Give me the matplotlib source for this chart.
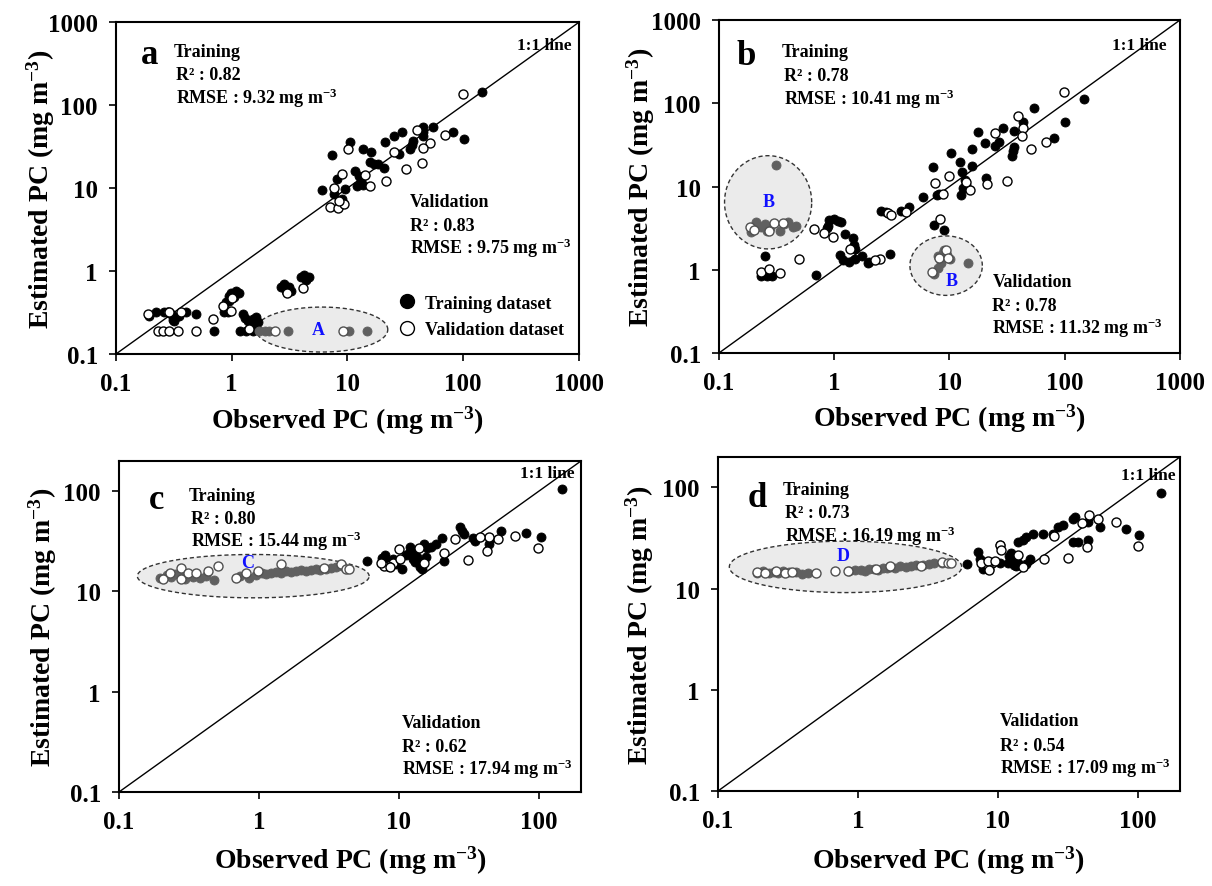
import numpy as np
import matplotlib
matplotlib.use("Agg")
import matplotlib.pyplot as plt
from matplotlib.lines import Line2D

plt.rcParams['font.family'] = ['Liberation Serif', 'DejaVu Serif']
plt.rcParams['font.weight'] = 'bold'
plt.rcParams['axes.labelweight'] = 'bold'
plt.rcParams['mathtext.fontset'] = 'custom'
plt.rcParams['mathtext.rm'] = 'Liberation Serif:bold'
plt.rcParams['mathtext.bf'] = 'Liberation Serif:bold'
plt.rcParams['mathtext.it'] = 'Liberation Serif:bold:italic'
plt.rcParams['mathtext.default'] = 'rm'

# ---------------- data (observed, estimated) ----------------
# panel a
a_train = [(146, 146), (102, 39), (82, 48), (55, 55), (45, 54), (45, 48), (45, 42),
           (37, 37), (36, 33), (35, 29.5), (29.5, 48), (25, 42), (21, 36), (28, 26),
           (20.6, 17.7), (15.8, 20.4), (17, 19.8), (18.2, 19.5), (13.5, 29.5),
           (15.9, 27.6), (10.5, 36), (7.3, 25), (11.7, 16), (12.5, 14), (13, 12.5),
           (13.5, 11), (12, 10.5), (9.5, 9.8), (8.1, 13), (6.0, 9.6), (7.6, 8.5), (9.0, 7.4),
           (3.97, 0.84), (4.25, 0.895), (4.62, 0.84), (4.39, 0.79),
           (2.67, 0.635), (2.85, 0.70), (3.1, 0.65), (2.94, 0.58), (3.26, 0.58),
           (0.99, 0.55), (1.09, 0.58), (1.16, 0.55), (0.955, 0.505), (1.05, 0.48),
           (0.89, 0.42), (0.955, 0.44), (0.86, 0.318), (0.92, 0.32),
           (1.24, 0.303), (1.29, 0.269), (1.37, 0.252), (1.52, 0.264), (1.62, 0.277),
           (1.47, 0.23), (1.67, 0.241), (1.18, 0.191), (1.33, 0.191), (1.52, 0.191),
           (1.67, 0.195), (0.708, 0.191),
           (0.194, 0.29), (0.222, 0.318), (0.319, 0.252), (0.33, 0.277), (0.353, 0.29),
           (0.403, 0.318), (0.491, 0.303), (0.262, 0.318), (0.299, 0.303), (0.31, 0.26)]
a_valid = [(99, 135), (70, 44), (52, 35), (45, 30.5), (44, 20), (40, 49.6), (32, 17.2),
           (25, 27.6), (21.5, 12.2), (15.6, 10.6), (14.2, 14.2), (10.2, 29.5), (9.0, 14.8),
           (7.6, 9.9), (7.0, 6.0), (8.2, 5.8), (9.3, 6.4), (8.4, 6.9),
           (4.1, 0.62), (2.98, 0.543), (1.0, 0.477), (0.99, 0.333), (0.836, 0.382),
           (0.684, 0.264), (1.42, 0.2), (0.49, 0.191), (0.229, 0.191), (0.253, 0.191),
           (0.289, 0.191), (0.341, 0.191), (0.188, 0.303), (0.28, 0.318), (0.365, 0.318),
           (0.289, 0.32)]
a_grey = [(1.73, 0.191), (1.92, 0.191), (2.1, 0.191), (3.05, 0.191), (10.4, 0.191), (14.7, 0.191)]
a_grey_valid = [(2.38, 0.191), (9.1, 0.191)]

# panel b
b_train = [(146, 112), (101, 59), (54, 88), (81, 38), (43.6, 59), (36.5, 46), (36, 30),
           (35, 23.5), (35.5, 27), (29.3, 51), (27, 34), (25, 31), (20.4, 33), (20.8, 12.6),
           (17.6, 44.7), (15.7, 28), (15.7, 17.8), (12.3, 19.5), (12.8, 15), (13.5, 12),
           (13.0, 9.5), (12.5, 8), (13.8, 10.5), (10.3, 25), (7.2, 17), (8.1, 8.1), (7.8, 7.8),
           (5.9, 7.4), (4.45, 5.7), (3.82, 5.1), (2.56, 5.1), (2.83, 4.9), (3.07, 1.55),
           (7.3, 3.45), (8.9, 3.0), (0.70, 0.86), (0.25, 1.45), (0.23, 0.83), (0.26, 0.83),
           (0.29, 0.84), (0.91, 4.0), (1.0, 4.1), (1.08, 3.8), (1.15, 3.7), (0.86, 3.2),
           (0.89, 3.4), (1.23, 2.7), (1.48, 2.0), (1.45, 2.4), (1.52, 1.8), (1.12, 1.5),
           (1.2, 1.3), (1.35, 1.25), (1.5, 1.35), (1.73, 1.45), (1.95, 1.2), (2.0, 1.25)]
b_valid = [(99, 135), (39, 71), (43.6, 51), (43, 41), (25, 43.5), (69, 34), (51, 28),
           (31.6, 11.7), (21, 10.7), (15.1, 9.1), (13.9, 11.2), (10, 13.5), (7.5, 11),
           (8.75, 8.1), (8.35, 4.1), (4.2, 4.9), (2.9, 4.8), (3.1, 4.6), (2.48, 1.35),
           (2.27, 1.3), (1.38, 1.78), (0.98, 2.5), (0.81, 2.8), (0.67, 3.1), (0.49, 1.35),
           (0.23, 0.93), (0.27, 1.02), (0.34, 0.91)]
b_grey = [(0.31, 18.1), (0.19, 2.82), (0.21, 3.78), (0.23, 3.3), (0.25, 3.5), (0.28, 3.2),
          (0.34, 2.9), (0.40, 3.78), (0.47, 3.4), (0.26, 2.9), (0.37, 3.5), (0.44, 3.3),
          (8.0, 1.45), (8.7, 1.6), (9.6, 1.5), (10.2, 1.35), (8.4, 1.2), (7.9, 1.05),
          (7.3, 0.9), (14.4, 1.2), (9.0, 1.75)]
b_grey_valid = [(0.185, 3.3), (0.27, 2.9), (0.30, 3.6), (0.36, 3.6), (0.2, 3.0),
                (9.35, 1.75), (8.1, 1.39), (7.1, 0.93), (9.8, 1.4)]

# panel c
c_train = [(146, 106), (103, 35), (81, 38.4), (53.5, 39.8), (44, 29.4), (45, 33), (34, 34),
           (35, 32), (27.5, 44), (29, 37), (28, 40), (20.3, 34), (18.3, 30), (17, 28),
           (15.9, 27), (15, 30), (21, 20), (14.7, 16.6), (14.2, 17.5), (12, 27.5), (13, 25),
           (11.8, 24), (13.5, 22), (12.5, 21), (14, 20), (13, 19.5), (15.5, 22), (11.2, 23),
           (10.5, 16.6), (9.6, 18.6), (9.0, 21), (9.2, 19.5), (7.6, 21.5), (8.4, 20),
           (5.96, 20.3), (8.0, 23)]
c_valid = [(98, 27), (68, 35.5), (51, 33.4), (44, 35), (42.5, 25.3), (38, 35), (31, 20.8),
           (25, 33.4), (21, 24.3), (15, 19.3), (13.9, 27.2), (10, 26.2), (9.1, 19),
           (8.4, 18), (7.8, 18), (7.4, 19), (8.6, 17.4), (10.2, 21)]
c_grey = [(0.196, 13.5), (0.219, 14.5), (0.237, 13.8), (0.25, 14.8), (0.28, 14.2),
          (0.295, 13.4), (0.32, 14.5), (0.338, 14.0), (0.377, 13.7), (0.416, 14.3),
          (0.48, 13.0), (0.726, 14.2), (0.855, 13.5), (0.955, 14.6), (1.05, 15.2),
          (1.12, 15.0), (1.22, 15.3), (1.32, 15.6), (1.44, 15.4), (1.56, 15.8), (1.7, 15.6),
          (1.84, 16.0), (2.0, 16.2), (2.17, 15.9), (2.35, 16.3), (2.55, 16.6), (2.75, 16.3),
          (3.0, 16.9), (3.25, 17.0), (3.55, 17.6), (3.95, 17.9)]
c_grey_valid = [(0.206, 13.4), (0.231, 15.3), (0.279, 17.2), (0.279, 13.2), (0.311, 15.3),
                (0.357, 15.1), (0.432, 15.9), (0.509, 17.9), (0.689, 13.7), (0.81, 15.3),
                (0.98, 15.9), (1.44, 18.6), (2.92, 17.2), (3.85, 18.6), (4.18, 16.6),
                (4.4, 16.6)]

# panel d
d_train = [(146, 88.5), (102, 33.7), (82, 38.7), (54, 41), (44, 30), (44, 45.7),
           (35.5, 51.3), (34.2, 48.5), (37.5, 29), (29, 43), (27, 41), (24.8, 35),
           (34.5, 29), (21, 35), (17.9, 34.3), (16, 32.5), (15.2, 30), (14, 29),
           (12, 21), (12.5, 19), (13, 17), (14, 18), (13.5, 16.6), (15.8, 17.5), (17, 19.5),
           (11.8, 18), (12.5, 22.5), (10.3, 17.8), (10.3, 27), (7.8, 15.8), (8.3, 16.6),
           (8.7, 15.5), (7.24, 23), (7.4, 19.8), (5.97, 17.7)]
d_valid = [(100, 26.5), (70, 45.7), (51.5, 49.3), (45, 54), (39.6, 45), (43, 25.5),
           (31.5, 20.1), (25.2, 33.3), (21.4, 19.5), (15.1, 16.4), (14, 21.4), (10.3, 26.9),
           (9.1, 17.8), (8.5, 16.6), (7.6, 17.8), (8.5, 18.6), (9.5, 18.6), (8.7, 15.2),
           (10.5, 24)]
d_grey = [(0.19, 14.3), (0.21, 14.8), (0.23, 14.2), (0.25, 14.7), (0.27, 14.4),
          (0.29, 14.8), (0.32, 14.5), (0.36, 14.6), (0.40, 14.1), (0.44, 14.4),
          (0.86, 14.8), (0.95, 15.2), (1.05, 15.4), (1.12, 15.0), (1.2, 15.6), (1.3, 15.8),
          (1.4, 15.4), (1.5, 16.0), (1.6, 15.9), (1.7, 16.3), (1.85, 16.1), (2.0, 16.6),
          (2.2, 16.3), (2.4, 16.8), (2.6, 17.0), (2.9, 17.3), (3.2, 17.6), (3.5, 17.8),
          (4.0, 18.0)]
d_grey_valid = [(0.19, 14.6), (0.215, 14.2), (0.26, 14.9), (0.30, 14.2), (0.34, 14.7),
                (0.50, 14.3), (0.68, 14.9), (0.85, 15.0), (1.35, 15.6), (1.7, 16.8),
                (2.8, 16.8), (4.0, 18.2), (4.4, 17.9), (4.6, 18.0)]

# statistics text
train_r2 = ['0.82', '0.78', '0.80', '0.73']
train_rmse = ['9.32', '10.41', '15.44', '16.19']
valid_r2 = ['0.83', '0.78', '0.62', '0.54']
valid_rmse = ['9.75', '11.32', '17.94', '17.09']
letters = ['a', 'b', 'c', 'd']

ticks_big = [0.1, 1, 10, 100, 1000]
ticks_small = [0.1, 1, 10, 100]
tick_names_big = ['0.1', '1', '10', '100', '1000']
tick_names_small = ['0.1', '1', '10', '100']

# ellipses: centre x, centre y, half-width (decades), half-height (decades), label, label x, label y
blobs = {
    'a': [(6.0, 0.197, 0.57, 0.271, 'A', 5.6, 0.195)],
    'b': [(0.267, 6.46, 0.378, 0.56, 'B', 0.272, 6.6),
          (9.35, 1.12, 0.314, 0.357, 'B', 10.4, 0.74)],
    'c': [(0.91, 14.2, 0.828, 0.216, 'C', 0.83, 19.3)],
    'd': [(0.815, 16.4, 0.83, 0.254, 'D', 0.78, 21.1)],
}

# ---------------- figure ----------------
fig = plt.figure(figsize=(12.12, 8.87), dpi=100)
rects = [[0.0957, 0.5998, 0.382, 0.374],
         [0.5932, 0.6009, 0.3804, 0.3754],
         [0.0982, 0.1060, 0.3812, 0.3732],
         [0.5924, 0.1071, 0.3812, 0.3766]]
panels = [(a_train, a_valid, a_grey, a_grey_valid),
          (b_train, b_valid, b_grey, b_grey_valid),
          (c_train, c_valid, c_grey, c_grey_valid),
          (d_train, d_valid, d_grey, d_grey_valid)]

# text positions in axes fraction: letter, training block, 1:1, validation block, label coords
txt_pos = [
    dict(let=(0.073, 0.904), tr=(0.125, 0.913), one=(0.985, 0.931), va=(0.635, 0.461),
         ylab=-0.128, xlab=-0.148),
    dict(let=(0.060, 0.892), tr=(0.136, 0.904), one=(0.971, 0.925), va=(0.593, 0.216),
         ylab=-0.135, xlab=-0.145),
    dict(let=(0.082, 0.885), tr=(0.150, 0.897), one=(0.987, 0.964), va=(0.612, 0.211),
         ylab=-0.130, xlab=-0.155),
    dict(let=(0.084, 0.880), tr=(0.140, 0.904), one=(0.991, 0.946), va=(0.610, 0.210),
         ylab=-0.134, xlab=-0.157),
]

unit = r' mg m$^{-3}$'
for i, (rect, data) in enumerate(zip(rects, panels)):
    ax = fig.add_axes(rect)
    tr, va, gr, grv = data
    big = i < 2
    hi = 1000 if big else 200

    ax.set_xscale('log')
    ax.set_yscale('log')
    ax.set_xlim(0.1, hi)
    ax.set_ylim(0.1, hi)

    for cx, cy, rx, ry, lab, lx, ly in blobs[letters[i]]:
        t = np.linspace(0, 2 * np.pi, 300)
        ex = 10 ** (np.log10(cx) + rx * np.cos(t))
        ey = 10 ** (np.log10(cy) + ry * np.sin(t))
        ax.fill(ex, ey, facecolor='#ebebeb', edgecolor='#333333', linewidth=1.0,
                linestyle=(0, (3, 2)), zorder=1)
        ax.text(lx, ly, lab, color='#1010ff', fontsize=13, ha='center', va='center',
                zorder=5)

    ax.plot([0.1, hi], [0.1, hi], color='black', linewidth=1.0, zorder=2)

    x, y = zip(*tr)
    ax.plot(x, y, 'o', color='black', markersize=6.5, markeredgewidth=0.6, zorder=3)
    x, y = zip(*va)
    ax.plot(x, y, 'o', markerfacecolor='white', markeredgecolor='black',
            markersize=6.5, markeredgewidth=1.0, zorder=3)
    x, y = zip(*gr)
    ax.plot(x, y, 'o', color='#606060', markersize=6.5, markeredgewidth=0.6, zorder=4)
    x, y = zip(*grv)
    ax.plot(x, y, 'o', markerfacecolor='white', markeredgecolor='#505050',
            markersize=6.5, markeredgewidth=1.0, zorder=4)

    tk = ticks_big if big else ticks_small
    tn = tick_names_big if big else tick_names_small
    ax.set_xticks(tk)
    ax.set_xticklabels(tn)
    ax.set_yticks(tk)
    ax.set_yticklabels(tn)
    ax.minorticks_off()
    ax.tick_params(axis='both', which='major', labelsize=18, direction='out',
                   length=5, width=1.2, pad=8)
    for s in ax.spines.values():
        s.set_linewidth(1.5)

    p = txt_pos[i]
    ax.set_xlabel('Observed PC (mg m$^{-3}$)', fontsize=20, fontweight='bold')
    ax.set_ylabel('Estimated PC (mg m$^{-3}$)', fontsize=20, fontweight='bold')
    ax.xaxis.set_label_coords(0.5, p['xlab'])
    ax.yaxis.set_label_coords(p['ylab'], 0.5)

    ax.text(*p['let'], letters[i], transform=ax.transAxes, fontsize=25,
            ha='center', va='center')
    tx, ty = p['tr']
    ax.text(tx, ty, 'Training', transform=ax.transAxes, fontsize=13, va='center')
    ax.text(tx + 0.005, ty - 0.07, 'R² : ' + train_r2[i], transform=ax.transAxes,
            fontsize=13, va='center')
    ax.text(tx + 0.005, ty - 0.138, 'RMSE : ' + train_rmse[i] + unit,
            transform=ax.transAxes, fontsize=13, va='center')
    ax.text(*p['one'], '1:1 line', transform=ax.transAxes, fontsize=12.5,
            ha='right', va='center')
    vx, vy = p['va']
    ax.text(vx, vy, 'Validation', transform=ax.transAxes, fontsize=13, va='center')
    ax.text(vx, vy - 0.074, 'R² : ' + valid_r2[i], transform=ax.transAxes,
            fontsize=13, va='center')
    ax.text(vx, vy - 0.14, 'RMSE : ' + valid_rmse[i] + unit,
            transform=ax.transAxes, fontsize=13, va='center')

    if i == 0:
        handles = [Line2D([], [], marker='o', linestyle='none', color='black',
                          markersize=10, label='Training dataset'),
                   Line2D([], [], marker='o', linestyle='none', markerfacecolor='white',
                          markeredgecolor='black', markersize=10,
                          label='Validation dataset')]
        ax.legend(handles=handles, loc='lower left', bbox_to_anchor=(0.594, 0.025),
                  frameon=False, fontsize=13, handlelength=1.0, handletextpad=0.5,
                  labelspacing=0.55, borderaxespad=0)

fig.savefig('out.png', dpi=100)
